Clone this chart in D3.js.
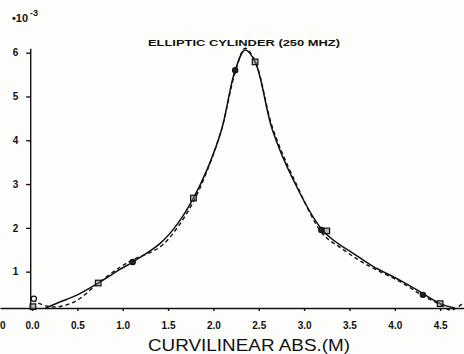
<!DOCTYPE html>
<html>
<head>
<meta charset="utf-8">
<script src="https://cdn.jsdelivr.net/npm/d3@7"></script>
<style>
  html, body { margin: 0; padding: 0; background: #fdfdfb; }
  svg { display: block; }
  .tick text { font-family: "Liberation Sans", Arial, sans-serif; font-weight: bold; font-size: 10px; fill: #111; }
  .tick line, .domain { stroke: #111; stroke-width: 1.4; }
</style>
</head>
<body>
<div id="chart"></div>
<script>
// values are in units of 1e-3
const solidX = [0.15, 0.3, 0.5, 0.73, 0.97, 1.11, 1.41, 1.6, 1.78, 1.93, 2.09, 2.24, 2.35, 2.46, 2.65, 2.88, 3.21, 3.59, 3.76, 4.06, 4.31, 4.5, 4.66]
const solidY = [0.17, 0.3, 0.47, 0.74, 1.05, 1.22, 1.64, 2.08, 2.68, 3.33, 4.24, 5.6, 6.06, 5.79, 4.24, 3.1, 1.93, 1.35, 1.12, 0.8, 0.5, 0.27, 0.17]

const dashX = [0.0, 0.15, 0.3, 0.5, 0.73, 0.97, 1.11, 1.41, 1.6, 1.78, 1.93, 2.09, 2.24, 2.35, 2.46, 2.65, 2.88, 3.21, 3.4, 3.59, 3.76, 4.06, 4.31, 4.5, 4.62, 4.7, 4.8]
const dashY = [0.35, 0.22, 0.2, 0.35, 0.74, 1.1, 1.27, 1.56, 2.0, 2.6, 3.3, 4.25, 5.55, 6.1, 5.8, 4.3, 3.15, 1.85, 1.55, 1.28, 1.08, 0.77, 0.45, 0.25, 0.12, 0.2, 0.35]

const circleX = [0.02, 1.11, 2.24, 3.19, 4.31]
const circleY = [0.38, 1.22, 5.6, 1.95, 0.47]

const squareX = [0.01, 0.73, 1.78, 2.46, 3.25, 4.5]
const squareY = [0.2, 0.74, 2.68, 5.79, 1.93, 0.27]

const xTicks = [0, 0.5, 1, 1.5, 2, 2.5, 3, 3.5, 4, 4.5]
const yTicks = [1, 2, 3, 4, 5, 6]

const title = "ELLIPTIC CYLINDER (250 MHZ)"
const xLabel = "CURVILINEAR ABS.(M)"

const width = 464, height = 354

const svg = d3.select("#chart").append("svg")
  .attr("width", width)
  .attr("height", height)

const x = d3.scaleLinear().domain([-0.353, 4.763]).range([0, width])
// bottom of the frame sits a bit above zero in the print
const y = d3.scaleLinear().domain([0.17, 6.1]).range([308, 48.3])

// x axis, running the full width
const xAxis = svg.append("g")
  .attr("transform", `translate(0,${y(0.17)})`)
  .call(d3.axisBottom(x).tickValues(xTicks).tickSize(3).tickSizeOuter(0).tickPadding(9)
    .tickFormat(d3.format(".1f")))
xAxis.selectAll(".tick text").attr("dy", "0.9em")

// y axis
svg.append("g")
  .attr("transform", `translate(${x(-0.02)},0)`)
  .call(d3.axisLeft(y).tickValues(yTicks).tickSize(4).tickSizeOuter(0).tickPadding(8)
    .tickFormat(d3.format("d")))

// label of the neighbouring panel at the left edge
svg.append("text")
  .attr("x", 0).attr("y", 329)
  .attr("font-family", "Liberation Sans, Arial, sans-serif")
  .attr("font-weight", "bold")
  .attr("font-size", 10)
  .attr("fill", "#111")
  .text("0")

// scale factor
const mult = svg.append("text")
  .attr("x", 12).attr("y", 22)
  .attr("font-family", "Liberation Sans, Arial, sans-serif")
  .attr("font-weight", "bold")
  .attr("font-size", 11)
  .attr("fill", "#111")
mult.append("tspan").text("•10")
mult.append("tspan").attr("dy", -6).attr("dx", 2).attr("font-size", 9).text("-3")

// title
svg.append("text")
  .attr("x", 244).attr("y", 46)
  .attr("text-anchor", "middle")
  .attr("font-family", "Liberation Sans, Arial, sans-serif")
  .attr("font-weight", "bold")
  .attr("font-size", 9)
  .attr("textLength", 192)
  .attr("lengthAdjust", "spacingAndGlyphs")
  .attr("fill", "#111")
  .text(title)

// x label
svg.append("text")
  .attr("x", 249).attr("y", 351)
  .attr("text-anchor", "middle")
  .attr("font-family", "Liberation Sans, Arial, sans-serif")
  .attr("font-size", 17)
  .attr("textLength", 202)
  .attr("lengthAdjust", "spacingAndGlyphs")
  .attr("fill", "#111")
  .text(xLabel)

const line = d3.line()
  .x(d => x(d[0]))
  .y(d => y(d[1]))
  .curve(d3.curveCatmullRom.alpha(0.5))

svg.append("path")
  .datum(d3.zip(dashX, dashY))
  .attr("fill", "none")
  .attr("stroke", "#111")
  .attr("stroke-width", 1.4)
  .attr("stroke-dasharray", "4,3")
  .attr("d", line)

svg.append("path")
  .datum(d3.zip(solidX, solidY))
  .attr("fill", "none")
  .attr("stroke", "#111")
  .attr("stroke-width", 1.5)
  .attr("d", line)

svg.append("g").selectAll("circle")
  .data(d3.zip(circleX, circleY))
  .join("circle")
  .attr("cx", d => x(d[0]))
  .attr("cy", d => y(d[1]))
  .attr("r", 2.6)
  .attr("fill", (d, i) => i === 0 ? "#fdfdfb" : "#222")
  .attr("stroke", "#111")
  .attr("stroke-width", 1.2)

svg.append("g").selectAll("rect")
  .data(d3.zip(squareX, squareY))
  .join("rect")
  .attr("x", d => x(d[0]) - 2.8)
  .attr("y", d => y(d[1]) - 2.8)
  .attr("width", 5.6)
  .attr("height", 5.6)
  .attr("fill", "#777")
  .attr("fill-opacity", 0.5)
  .attr("stroke", "#111")
  .attr("stroke-width", 1.2)
</script>
</body>
</html>
